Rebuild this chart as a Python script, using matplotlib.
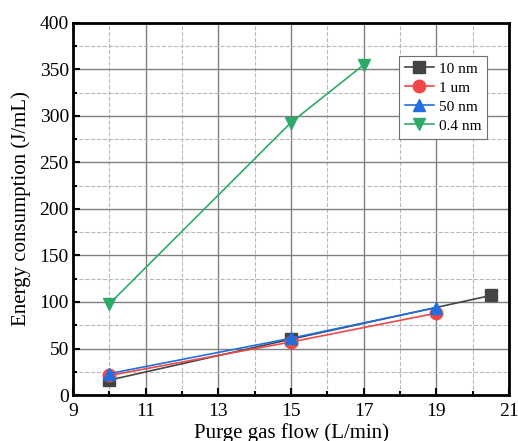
import numpy as np
import matplotlib.pyplot as plt
from matplotlib.ticker import MultipleLocator, FixedLocator

plt.rcParams['font.family'] = ['Liberation Serif', 'DejaVu Serif']

# data
x_10nm = [10, 15, 20.5]
y_10nm = [16, 60, 107]
x_1um = [10, 15, 19]
y_1um = [21, 57, 88]
x_50nm = [10, 15, 19]
y_50nm = [23, 61, 94]
x_04nm = [10, 15, 17]
y_04nm = [98, 293, 355]

x_major = [9, 11, 13, 15, 17, 19, 21]
x_minor = [10, 12, 14, 16, 18, 20]

fig = plt.figure(figsize=(5.18, 4.41), dpi=100)
ax = fig.add_axes([73 / 518, 46 / 441, 436 / 518, 372 / 441])

ax.plot(x_10nm, y_10nm, color='#444444', marker='s', ms=8, lw=1.2, label='10 nm', zorder=3)
ax.plot(x_1um, y_1um, color='#f04848', marker='o', ms=9, lw=1.2, label='1 um', zorder=3)
ax.plot(x_50nm, y_50nm, color='#1f6fe0', marker='^', ms=9, lw=1.2, label='50 nm', zorder=3)
ax.plot(x_04nm, y_04nm, color='#2eaa68', marker='v', ms=9, lw=1.2, label='0.4 nm', zorder=3)

ax.set_xlim(9, 21)
ax.set_ylim(0, 400)
ax.xaxis.set_major_locator(FixedLocator(x_major))
ax.xaxis.set_minor_locator(FixedLocator(x_minor))
ax.yaxis.set_major_locator(MultipleLocator(50))
ax.yaxis.set_minor_locator(MultipleLocator(25))

ax.grid(which='major', color='#808080', lw=1.0, ls='-')
ax.grid(which='minor', color='#b8b8b8', lw=0.8, ls='--')
ax.set_axisbelow(True)

for s in ax.spines.values():
    s.set_linewidth(2)
ax.tick_params(which='major', direction='in', length=5, width=1.5, labelsize=14,
               top=False, right=False)
ax.tick_params(which='minor', direction='in', length=3, width=1.5, top=False, right=False)
ax.tick_params(axis='x', pad=6)
ax.tick_params(axis='y', pad=3)

ax.set_xlabel('Purge gas flow (L/min)', fontsize=15, labelpad=2)
ax.set_ylabel('Energy consumption (J/mL)', fontsize=15, labelpad=6)

leg = ax.legend(loc='upper right', bbox_to_anchor=(0.95, 0.912), fontsize=11,
                fancybox=False, edgecolor='#707070', framealpha=1,
                handlelength=1.9, borderpad=0.4, labelspacing=0.35, handletextpad=0.3,
                borderaxespad=0)
leg.get_frame().set_linewidth(0.8)

plt.savefig('out.png', dpi=100)
